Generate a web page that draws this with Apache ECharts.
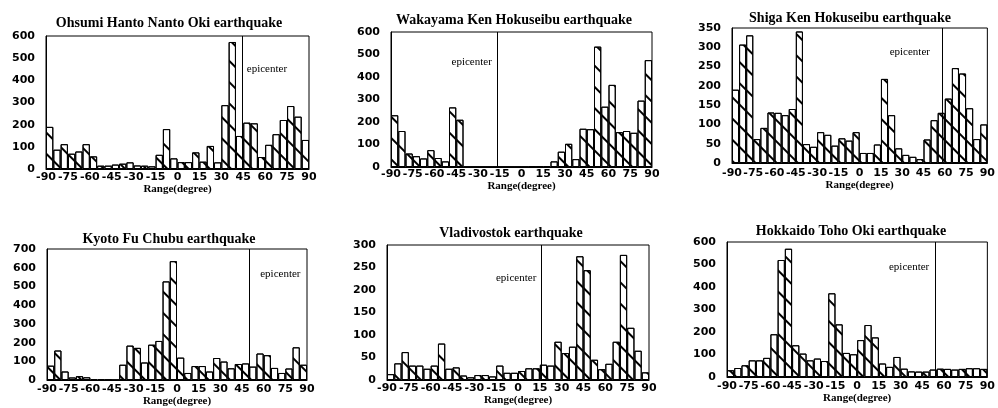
<!DOCTYPE html>
<html>
<head>
<meta charset="utf-8">
<script src="https://cdn.jsdelivr.net/npm/echarts/dist/echarts.min.js"></script>
<style>
  html, body { margin: 0; padding: 0; background: #fff; }
  #main { width: 998px; height: 408px; }
</style>
</head>
<body>
<div id="main"></div>
<script>
// 5-degree bins from -90 to 90 (bin centres)
const binCenters = [-87.5, -82.5, -77.5, -72.5, -67.5, -62.5, -57.5, -52.5, -47.5, -42.5, -37.5, -32.5,
  -27.5, -22.5, -17.5, -12.5, -7.5, -2.5, 2.5, 7.5, 12.5, 17.5, 22.5, 27.5,
  32.5, 37.5, 42.5, 47.5, 52.5, 57.5, 62.5, 67.5, 72.5, 77.5, 82.5, 87.5];

const titles = [
  'Ohsumi Hanto Nanto Oki earthquake',
  'Wakayama Ken Hokuseibu earthquake',
  'Shiga Ken Hokuseibu earthquake',
  'Kyoto Fu Chubu earthquake',
  'Vladivostok earthquake',
  'Hokkaido Toho Oki earthquake'
];

const ohsumi = [190, 87, 112, 69, 79, 112, 57, 15, 15, 20, 24, 30, 16, 15, 12, 64, 180, 48,
  31, 31, 75, 33, 104, 30, 288, 573, 149, 209, 206, 54, 109, 157, 221, 284, 236, 131];
const wakayama = [230, 160, 60, 48, 38, 75, 40, 25, 265, 210, 0, 0, 0, 0, 0, 0, 0, 0,
  0, 3, 3, 3, 25, 68, 103, 35, 170, 168, 535, 268, 365, 155, 160, 152, 295, 475];
const shiga = [190, 307, 331, 62, 91, 131, 130, 124, 140, 341, 49, 42, 80, 73, 45, 64, 58, 80,
  26, 26, 48, 218, 124, 38, 21, 16, 10, 61, 111, 130, 167, 246, 232, 142, 62, 100];
const kyoto = [77, 158, 46, 14, 21, 15, 5, 3, 2, 0, 82, 184, 172, 94, 189, 209, 527, 635,
  120, 38, 75, 75, 46, 118, 99, 63, 86, 89, 72, 142, 133, 65, 38, 62, 175, 82];
const vladivostok = [13, 37, 62, 32, 32, 25, 32, 81, 25, 28, 10, 6, 11, 11, 8, 32, 16, 16,
  20, 26, 26, 34, 32, 85, 60, 74, 275, 244, 45, 24, 36, 85, 278, 116, 65, 17];
const hokkaido = [30, 40, 52, 74, 74, 85, 190, 520, 570, 141, 104, 74, 82, 71, 372, 234, 107, 101,
  164, 231, 176, 60, 45, 89, 37, 25, 24, 24, 33, 37, 36, 33, 36, 39, 39, 36];

const counts = [ohsumi, wakayama, shiga, kyoto, vladivostok, hokkaido];
// epicenter direction (degree) for each quake
const epicenters = [44, -17, 58, 50, 16, 54];
const yMax = [600, 600, 350, 700, 300, 600];
const yStep = [100, 100, 50, 100, 50, 100];

// panel layout (pixels)
const panels = [
  { left: 46, top: 36, width: 263, height: 133, tx: 169, ty: 23, lm: 3, ng: 15, side: 'right', dist: 5, ey: 451 },
  { left: 391, top: 32, width: 261, height: 135, tx: 514, ty: 20, lm: 2, ng: 13, side: 'left', dist: 5, ey: 467 },
  { left: 732, top: 28, width: 260, height: 135, tx: 850, ty: 18, lm: 5, ng: 13, side: 'left', dist: 12, ey: 288 },
  { left: 47, top: 249, width: 260, height: 135, tx: 169, ty: 239, lm: 4, ng: 14, side: 'right', dist: 11, ey: 568 },
  { left: 387, top: 245, width: 262, height: 135, tx: 511, ty: 233, lm: 3, ng: 13, side: 'left', dist: 5, ey: 227 },
  { left: 727, top: 242, width: 263, height: 135, tx: 851, ty: 231, lm: 4, ng: 16, side: 'left', dist: 6, ey: 487 }
];

const numFont = 'DejaVu Sans';
const serif = 'Liberation Serif';

// diagonal "\" hatching of the bars
const hatch = {
  symbol: 'rect',
  symbolSize: 1,
  color: '#000',
  dashArrayX: [1, 0],
  dashArrayY: [2, 13],
  rotation: Math.PI / 4
};

const chart = echarts.init(document.getElementById('main'), null, { renderer: 'canvas' });

const grid = [], xAxis = [], yAxis = [], series = [], graphic = [];

panels.forEach((p, i) => {
  grid.push({
    left: p.left, top: p.top, width: p.width, height: p.height,
    show: true, borderColor: '#000', borderWidth: 1, backgroundColor: 'transparent'
  });
  xAxis.push({
    type: 'value', gridIndex: i, min: -90, max: 90, interval: 15,
    axisLine: { show: true, onZero: false, lineStyle: { color: '#000', width: 1 } },
    axisTick: { show: false },
    splitLine: { show: false },
    axisLabel: {
      color: '#000', fontFamily: numFont, fontSize: 11, fontWeight: 'bold',
      margin: p.lm, showMinLabel: true, showMaxLabel: true
    },
    name: 'Range(degree)', nameLocation: 'middle', nameGap: p.ng,
    nameTextStyle: { color: '#000', fontFamily: serif, fontSize: 11, fontWeight: 'bold' }
  });
  yAxis.push({
    type: 'value', gridIndex: i, min: 0, max: yMax[i], interval: yStep[i],
    axisLine: { show: true, onZero: false, lineStyle: { color: '#000', width: 1 } },
    axisTick: { show: false },
    splitLine: { show: false },
    axisLabel: { color: '#000', fontFamily: numFont, fontSize: 11, fontWeight: 'bold', margin: 11 }
  });
  series.push({
    type: 'bar',
    xAxisIndex: i, yAxisIndex: i,
    barWidth: '100%',
    silent: true,
    itemStyle: { color: '#fff', borderColor: '#000', borderWidth: 1, decal: hatch },
    data: binCenters.map((c, j) => [c, counts[i][j]]),
    markLine: {
      silent: true, symbol: ['none', 'none'],
      lineStyle: { color: '#000', type: 'solid', width: 1 },
      label: { show: false },
      data: [{ xAxis: epicenters[i] }]
    },
    markPoint: {
      silent: true, symbolSize: 0,
      label: {
        show: true, position: p.side, distance: p.dist,
        formatter: 'epicenter', color: '#000', fontFamily: serif, fontSize: 11
      },
      data: [{ coord: [epicenters[i], p.ey] }]
    }
  });
  graphic.push({
    type: 'text', x: p.tx, y: p.ty,
    style: {
      text: titles[i], fill: '#000', font: 'bold 14px "Liberation Serif"',
      textAlign: 'center', textVerticalAlign: 'middle'
    }
  });
});

chart.setOption({
  backgroundColor: '#fff',
  animation: false,
  grid: grid,
  xAxis: xAxis,
  yAxis: yAxis,
  series: series,
  graphic: graphic
});
</script>
</body>
</html>
